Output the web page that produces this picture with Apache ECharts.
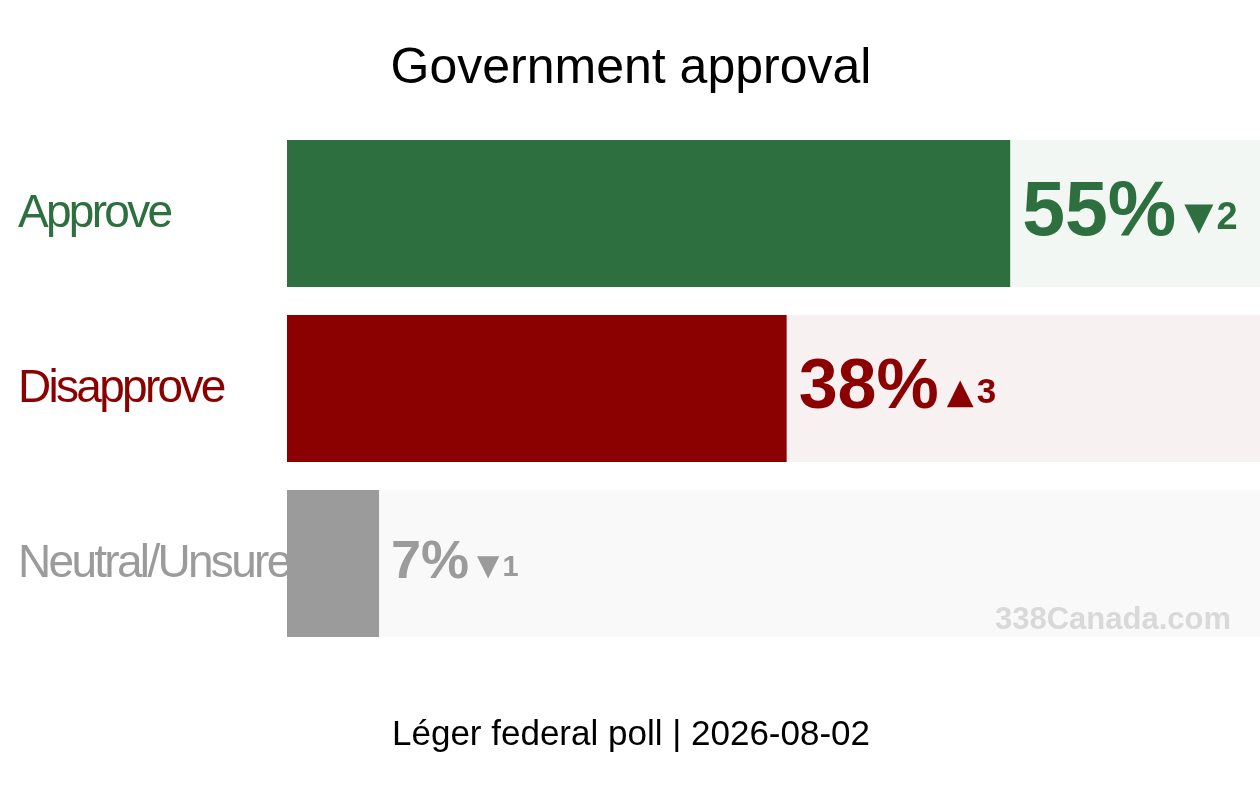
<!DOCTYPE html>
<html>
<head>
<meta charset="utf-8">
<script src="https://cdn.jsdelivr.net/npm/echarts@6/dist/echarts.min.js"></script>
<style>
html,body{margin:0;padding:0;background:#fff;}
#chart{width:1260px;height:805px;}
</style>
</head>
<body>
<div id="chart"></div>
<script>
// ---- data ----
const categories = ['Approve', 'Disapprove', 'Neutral/Unsure'];
const values = [55, 38, 7];
const changes = [-2, 3, -1];
const titleText = 'Government approval';
const footerText = 'Léger federal poll | 2026-08-02';
const watermarkText = '338Canada.com';

// ---- styles ----
const barColors = ['#2e6f40', '#8b0000', '#9b9b9b'];
const bgColors = ['#f2f7f3', '#f7f1f1', '#f9f9f9'];
const valueFontSizes = [77, 70, 54];
const changeFontSizes = [38, 35, 29];
const axisMax = 74;
const sans = "'Liberation Sans', Arial, sans-serif";
const catFontSize = 46;
const catTracking = -2.7; // px, tight letter spacing of the category labels

// Tight tracking for the category label size only
(function () {
  const proto = CanvasRenderingContext2D.prototype;
  if (!('letterSpacing' in proto)) return;
  const wrap = (name) => {
    const orig = proto[name];
    proto[name] = function (t, x, y, w) {
      const font = this.font || '';
      const m = /(\d+(?:\.\d+)?)px/.exec(font);
      const isBold = /bold|700|800|900/.test(font);
      if (m && !isBold && parseFloat(m[1]) === catFontSize && /Liberation/.test(font)) {
        this.letterSpacing = catTracking + 'px';
      } else {
        this.letterSpacing = '0px';
      }
      return w === undefined ? orig.call(this, t, x, y) : orig.call(this, t, x, y, w);
    };
  };
  wrap('fillText');
  wrap('strokeText');
})();

const chart = echarts.init(document.getElementById('chart'));

const mainData = values.map((v, i) => {
  const F = valueFontSizes[i];
  const f = changeFontSizes[i];
  const pad = Math.round(F * 0.14);
  return {
    value: v,
    itemStyle: { color: barColors[i] },
    label: {
      rich: {
        v: { fontSize: F, fontWeight: 'bold', fontFamily: sans, color: barColors[i], lineHeight: F, verticalAlign: 'middle' },
        a: { fontSize: f, fontFamily: "'DejaVu Sans', sans-serif", color: barColors[i], verticalAlign: 'middle', padding: [pad, 3, 0, 8] },
        n: { fontSize: f, fontWeight: 'bold', fontFamily: sans, color: barColors[i], verticalAlign: 'middle', padding: [pad, 0, 0, 0] }
      }
    }
  };
});

const bgData = categories.map((c, i) => ({ value: axisMax, itemStyle: { color: bgColors[i] } }));

chart.setOption({
  backgroundColor: '#ffffff',
  animation: false,
  grid: { left: 287, right: 0, top: 126, bottom: 154 },
  xAxis: { type: 'value', min: 0, max: axisMax, show: false },
  yAxis: {
    type: 'category',
    inverse: true,
    data: categories,
    axisLine: { show: false },
    axisTick: { show: false },
    splitLine: { show: false },
    axisLabel: { show: false }
  },
  series: [
    { type: 'bar', data: bgData, barWidth: 147, silent: true, z: 1 },
    {
      type: 'bar',
      data: mainData,
      barWidth: 147,
      barGap: '-100%',
      z: 2,
      label: {
        show: true,
        position: 'right',
        distance: 12,
        formatter: (p) => {
          const ch = changes[p.dataIndex];
          const arrow = ch < 0 ? '▼' : '▲';
          return '{v|' + p.value + '%}{a|' + arrow + '}{n|' + Math.abs(ch) + '}';
        }
      }
    }
  ]
});

// category labels placed via the category axis scale
const catGraphics = categories.map((c, i) => {
  const y = chart.convertToPixel({ yAxisIndex: 0 }, c);
  return {
    type: 'text',
    x: 18,
    y: y + 1,
    z: 0,
    style: { text: c, font: catFontSize + 'px ' + sans, fill: barColors[i], align: 'left', verticalAlign: 'middle' }
  };
});

chart.setOption({
  graphic: [
    {
      type: 'text',
      x: 631,
      y: 69,
      z: 100,
      style: { text: titleText, font: '50px ' + sans, fill: '#000', align: 'center', verticalAlign: 'middle' }
    },
    ...catGraphics,
    {
      type: 'text',
      right: 29,
      top: 605,
      z: 100,
      style: { text: watermarkText, font: 'bold 31px ' + sans, fill: '#d9d9d9' }
    },
    {
      type: 'text',
      x: 631,
      y: 735,
      z: 100,
      style: { text: footerText, font: '35px ' + sans, fill: '#000', align: 'center', verticalAlign: 'middle' }
    }
  ]
});
</script>
</body>
</html>
